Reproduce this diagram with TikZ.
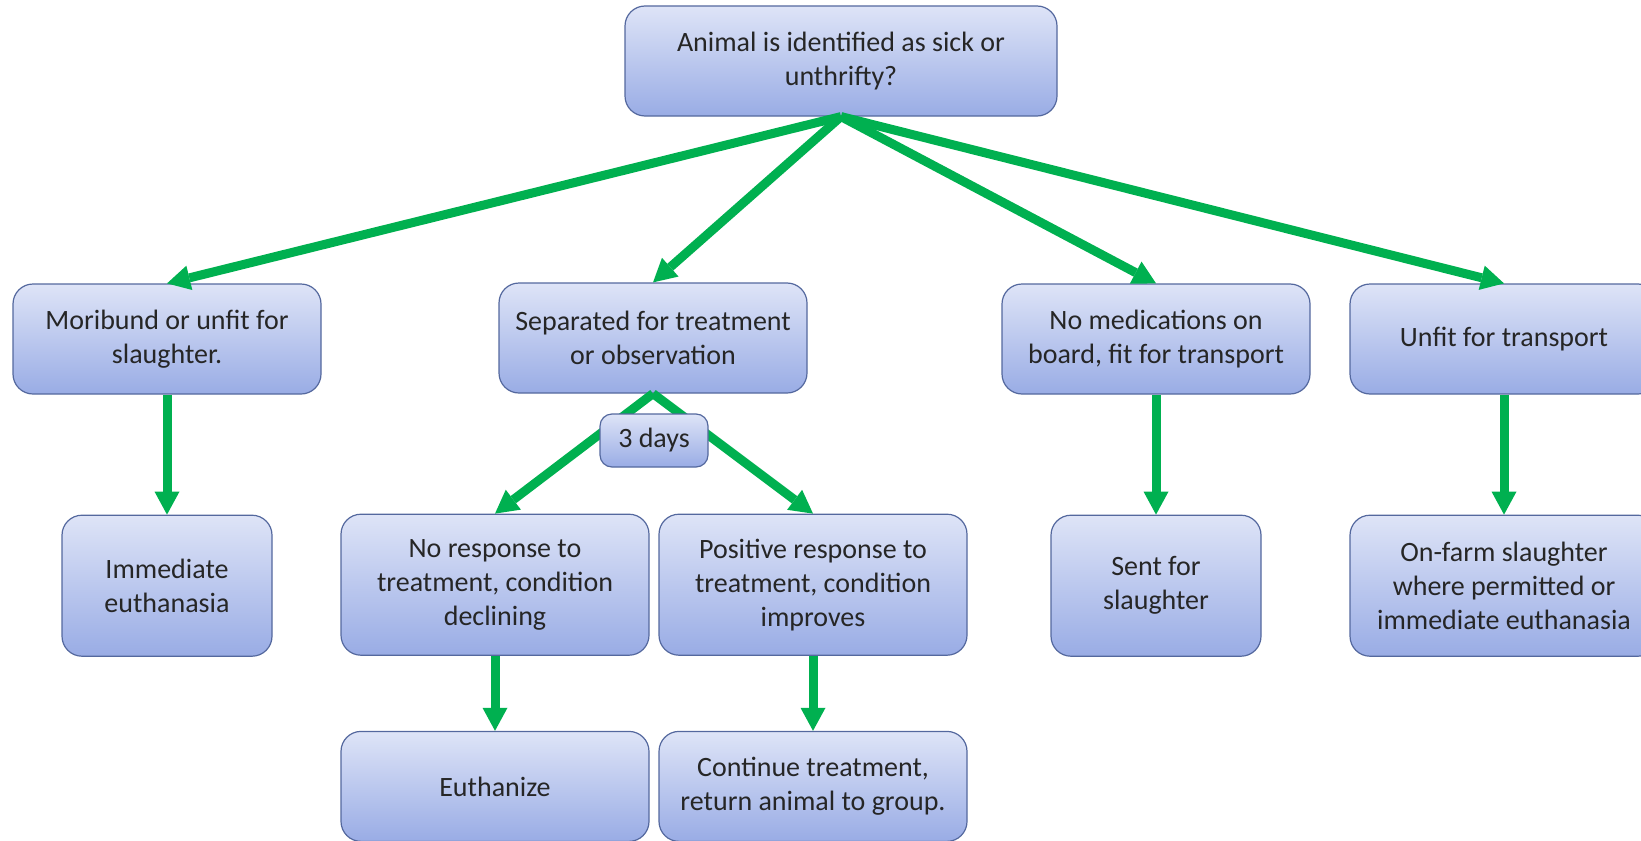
\documentclass[tikz,border=0pt]{standalone}
\usepackage{fontspec}
\setmainfont{Carlito}
\usetikzlibrary{arrows.meta, positioning}
\definecolor{boxtop}{RGB}{222,228,247}
\definecolor{boxbot}{RGB}{153,172,229}
\definecolor{boxline}{RGB}{84,104,158}
\definecolor{flowgreen}{RGB}{0,176,80}

\begin{document}
\begin{tikzpicture}[
    x=0.5pt, y=-0.5pt,
    node distance=60pt,
    box/.style={rectangle, rounded corners=10pt, draw=boxline, line width=0.6pt, top color=boxtop, bottom color=boxbot, minimum width=154pt, minimum height=55pt, inner sep=0pt, align=center, text=black!85, font=\fontsize{14}{17}\selectfont},
    tall/.style={minimum height=70.5pt},
    narrow/.style={minimum width=105pt},
    flow/.style={draw=flowgreen, line width=4.5pt, -{Triangle[width=12.5pt, length=11.5pt, line width=0pt]}}
]
    \useasboundingbox (0,0) rectangle (1641,840);

    \node[box, minimum width=216pt] (sick) at (841,61) {Animal is identified as sick or\\unthrifty?};
    \node[box] (moribund) at (167,339) {Moribund or unfit for\\slaughter.};
    \node[box] (separated) at (653,338) {Separated for treatment\\or observation};
    \node[box] (nomeds) at (1156,339) {No medications on\\board, fit for transport};
    \node[box] (unfit) at (1504,339) {Unfit for transport};

    \node[box, tall, narrow, below=of moribund] (immediate) {Immediate\\euthanasia};
    \node[box, tall, below=of separated, xshift=-79pt] (noresp) {No response to\\treatment, condition\\declining};
    \node[box, tall, below=of separated, xshift=80pt] (positive) {Positive response to\\treatment, condition\\improves};
    \node[box, tall, narrow, below=of nomeds] (sent) {Sent for\\slaughter};
    \node[box, tall, below=of unfit] (onfarm) {On-farm slaughter\\where permitted or\\immediate euthanasia};

    \node[box, below=37.5pt of noresp] (euthanize) {Euthanize};
    \node[box, below=37.5pt of positive] (continue) {Continue treatment,\\return animal to group.};

    % first split
    \foreach \dest in {moribund, separated, nomeds, unfit}
        \draw[flow] (sick.south) -- (\dest.north);

    % after the observation period
    \draw[flow] (separated.south) -- (noresp.north);
    \draw[flow] (separated.south) -- (positive.north);
    \node[box, minimum width=54pt, minimum height=26.5pt, rounded corners=6pt] (days) at (654,440.5) {3 days};

    \foreach \src/\dest in {moribund/immediate, noresp/euthanize, positive/continue, nomeds/sent, unfit/onfarm}
        \draw[flow] (\src) -- (\dest);
\end{tikzpicture}
\end{document}
